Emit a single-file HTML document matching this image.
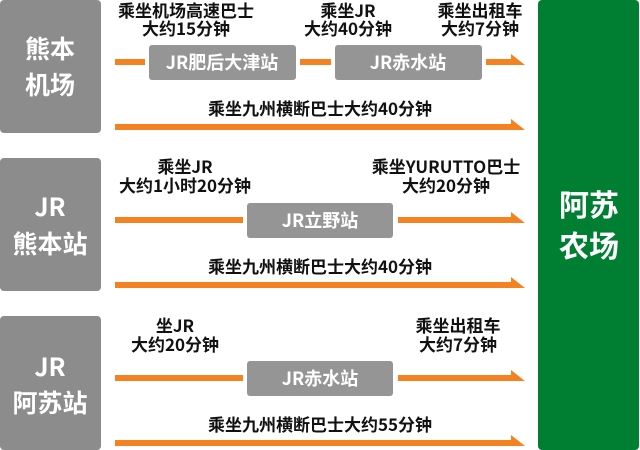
<!DOCTYPE html>
<html><head><meta charset="utf-8"><style>
html,body{margin:0;padding:0;background:#fff;}
svg{display:block}
text{font-family:"Noto Sans CJK SC","Liberation Sans",sans-serif;font-weight:bold;}
</style></head><body>
<svg width="640" height="450" viewBox="0 0 640 450" xmlns="http://www.w3.org/2000/svg">
<g fill="#8c8c8c">
<rect x="0" y="0" width="101" height="133" rx="4"/>
<rect x="0" y="158" width="101" height="133" rx="4"/>
<rect x="0" y="316" width="101" height="134" rx="4"/>
</g>
<rect x="538" y="0" width="101" height="450" rx="4" fill="#007f33"/>
<g fill="#fff" font-size="25" text-anchor="middle">
<text x="50" y="58">熊本</text><text x="50" y="94">机场</text>
<text x="50" y="216">JR</text><text x="50" y="253">熊本站</text>
<text x="50" y="376">JR</text><text x="50" y="412">阿苏站</text>
</g>
<g fill="#fff" font-size="30" text-anchor="middle">
<text x="589" y="216">阿苏</text><text x="589" y="257">农场</text>
</g>
<g fill="#f58220">
<rect x="115" y="59" width="30" height="6"/>
<rect x="300" y="59" width="31" height="6"/>
<rect x="486" y="59" width="27" height="6"/><polygon points="511,54 525,65 511,65"/>
<rect x="115" y="124" width="398" height="6"/><polygon points="511,119 525,130 511,130"/>
<rect x="115" y="217" width="128" height="6"/>
<rect x="398" y="217" width="115" height="6"/><polygon points="511,212 525,223 511,223"/>
<rect x="115" y="282" width="398" height="6"/><polygon points="511,277 525,288 511,288"/>
<rect x="115" y="375" width="128" height="6"/>
<rect x="398" y="375" width="115" height="6"/><polygon points="511,370 525,381 511,381"/>
<rect x="115" y="440" width="398" height="6"/><polygon points="511,435 525,446 511,446"/>
</g>
<g fill="#959595">
<rect x="149" y="45" width="147" height="35" rx="3"/>
<rect x="335" y="45" width="147" height="35" rx="3"/>
<rect x="247" y="203" width="146" height="35" rx="3"/>
<rect x="247" y="361" width="146" height="35" rx="3"/>
</g>
<g fill="#fff" font-size="18" text-anchor="middle">
<text x="222" y="69">JR肥后大津站</text>
<text x="408" y="69">JR赤水站</text>
<text x="320" y="227">JR立野站</text>
<text x="320" y="385">JR赤水站</text>
</g>
<g fill="#111" font-size="17" text-anchor="middle">
<text x="186" y="17">乘坐机场高速巴士</text><text x="186" y="35">大约15分钟</text>
<text x="348" y="17">乘坐JR</text><text x="348" y="35">大约40分钟</text>
<text x="480" y="17">乘坐出租车</text><text x="480" y="35">大约7分钟</text>
<text x="320" y="115">乘坐九州横断巴士大约40分钟</text>
<text x="185" y="173">乘坐JR</text><text x="185" y="192">大约1小时20分钟</text>
<text x="446" y="173">乘坐YURUTTO巴士</text><text x="446" y="192">大约20分钟</text>
<text x="320" y="273">乘坐九州横断巴士大约40分钟</text>
<text x="175" y="332">坐JR</text><text x="175" y="351">大约20分钟</text>
<text x="458" y="332">乘坐出租车</text><text x="458" y="351">大约7分钟</text>
<text x="320" y="431">乘坐九州横断巴士大约55分钟</text>
</g>
</svg>
</body></html>
